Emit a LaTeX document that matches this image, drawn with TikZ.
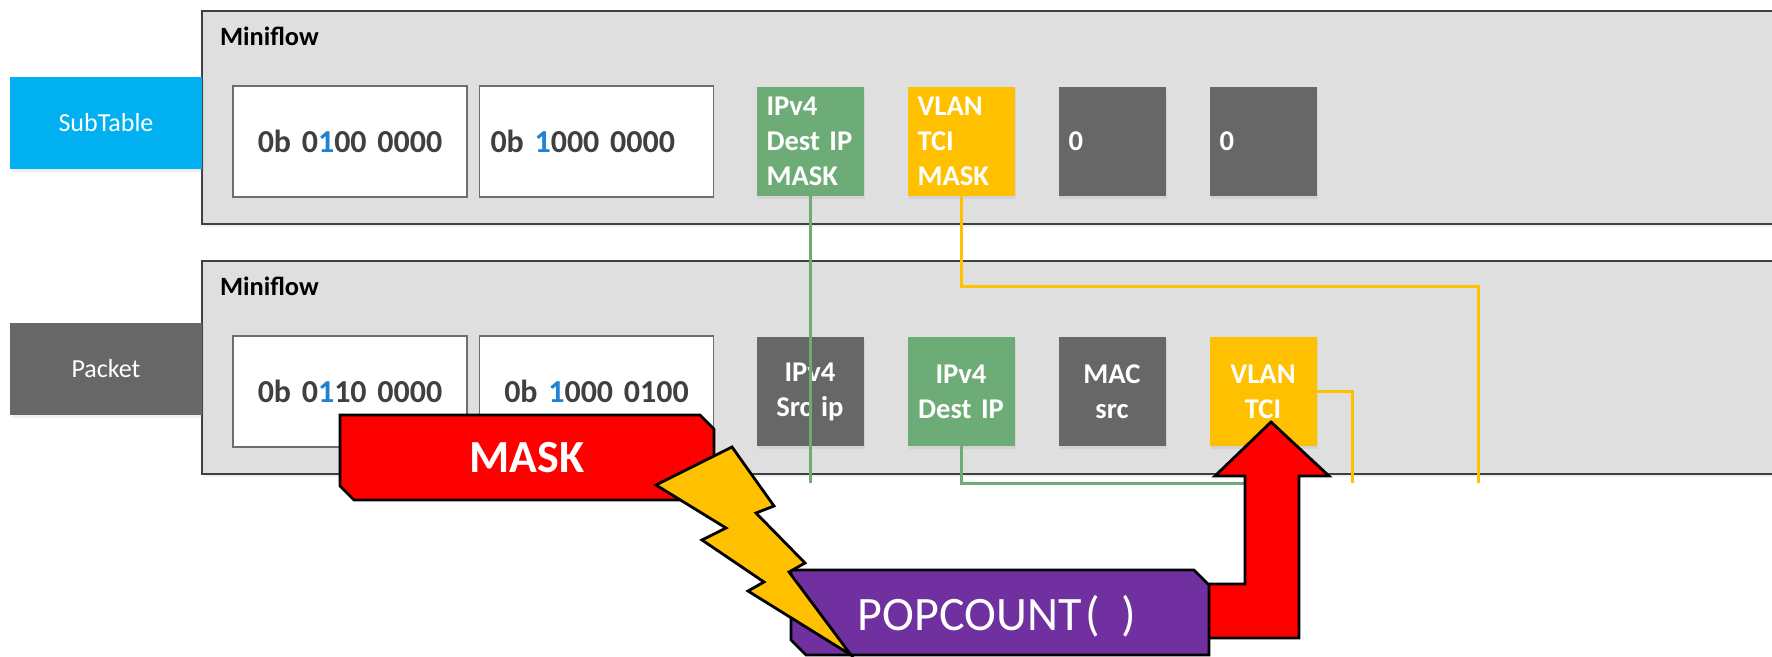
\documentclass[tikz,border=0pt]{standalone}
\usepackage{fontspec}
\setmainfont{Carlito}
\usepackage{xcolor}
\usetikzlibrary{shadows}
\definecolor{panelgray}{HTML}{DFDFDF}
\definecolor{panelline}{HTML}{3F3F3F}
\definecolor{boxline}{HTML}{6E6E6E}
\definecolor{fieldgray}{HTML}{676767}
\definecolor{fieldgreen}{HTML}{6DAC76}
\definecolor{fieldyellow}{HTML}{FFC000}
\definecolor{tagblue}{HTML}{00B0F0}
\definecolor{valtext}{HTML}{404040}
\definecolor{bitblue}{HTML}{1F82D2}
\definecolor{maskred}{HTML}{FF0000}
\definecolor{popviolet}{HTML}{7030A0}
\newcommand{\hibit}[1]{\textcolor{bitblue}{#1}}

\tikzset{
    softshadow/.style={drop shadow={shadow xshift=0.8pt, shadow yshift=-1.6pt, opacity=0.12}},
    panel/.style={draw=panelline, line width=1pt, fill=panelgray, anchor=north west, softshadow,
        minimum width=810pt, minimum height=106.5pt, inner sep=0},
    tag/.style={fill=#1, text=white, minimum width=96pt, minimum height=46pt, inner sep=0, softshadow,
        font=\fontsize{13}{15}\selectfont},
    valbox/.style={draw=boxline, line width=0.8pt, fill=white, text=valtext, text width=106pt,
        inner sep=5.5pt, minimum height=55.5pt, align=center, font=\bfseries\fontsize{16}{19}\selectfont},
    field/.style={fill=#1, text=white, text width=43.5pt, inner sep=5pt, minimum height=54.5pt, softshadow,
        align=left, font=\bfseries\fontsize{14.3}{17.5}\selectfont},
    flowlabel/.style={anchor=base west, font=\bfseries\fontsize{13.2}{15}\selectfont},
    wire/.style={line width=1.5pt, draw=#1},
    cutout/.style={draw=black, line width=1.4pt, line join=miter},
}

\begin{document}
\begin{tikzpicture}[x=0.5pt, y=-0.5pt]
    \useasboundingbox (0,0) rectangle (1772,657);
    \clip (0,0) rectangle (1772,657);

    % the two miniflows
    \node[panel] (subPanel) at (201,10) {};
    \node[panel] (pktPanel) at (201,260) {};
    \node[flowlabel] (subFlow) at (213,45.5) {Miniflow};
    \node[flowlabel] (pktFlow) at (213,295.5) {Miniflow};

    \node[tag=tagblue] (subTag) at (106,123) {SubTable};
    \node[tag=fieldgray] (pktTag) at (106,369) {Packet};

    % map words
    \node[valbox] (subMapA) at (350,141.5) {0b 0\hibit{1}00 0000};
    \node[valbox, align=left] (subMapB) at (596.5,141.5) {0b \hibit{1}000 0000};
    \node[valbox] (pktMapA) at (350,391.5) {0b 0\hibit{1}10 0000};
    \node[valbox] (pktMapB) at (596.5,391.5) {0b \hibit{1}000 0100};

    % fields
    \node[field=fieldgreen] (dipMask) at (810,141.5) {IPv4\\Dest IP\\MASK};
    \node[field=fieldyellow] (tciMask) at (961,141.5) {VLAN\\TCI\\MASK};
    \node[field=fieldgray] (zeroA) at (1112,141.5) {0};
    \node[field=fieldgray] (zeroB) at (1263,141.5) {0};
    \node[field=fieldgray, align=center] (sip) at (810,391.5) {IPv4\\Src ip};
    \node[field=fieldgreen, align=center] (dip) at (961,391.5) {IPv4\\Dest IP};
    \node[field=fieldgray, align=center] (mac) at (1112,391.5) {MAC\\src};
    \node[field=fieldyellow, align=center] (tci) at (1263,391.5) {VLAN\\TCI};

    % wires
    \coordinate (cutLine) at (0,483);
    \coordinate (tciBend) at (1478,287);
    \coordinate (tciTurn) at (1352,0);
    \coordinate (arrowFoot) at (1271,483);
    \draw[wire=fieldgreen] (dipMask.south) -- (dipMask.south |- cutLine);
    \draw[wire=fieldyellow] (tciMask.south) |- (tciBend) -- (tciBend |- cutLine);
    \draw[wire=fieldgreen] (dip.south) |- (arrowFoot);
    \draw[wire=fieldyellow] (tci.east) -| (tciTurn |- cutLine);

    % MASK
    \draw[cutout, fill=maskred] (340,415) -- (700,415) -- (714,429) -- (714,500) -- (354,500) -- (340,486) -- cycle;
    \node[text=white, font=\bfseries\fontsize{23}{26}\selectfont] (maskLbl) at (527,458) {MASK};

    % result arrow
    \draw[cutout, fill=maskred] (1195,584) -- (1245,584) -- (1245,476) -- (1215,476) -- (1271,422)
        -- (1329,476) -- (1299,476) -- (1299,638) -- (1195,638) -- cycle;

    % POPCOUNT
    \draw[cutout, fill=popviolet] (791,570) -- (1194,570) -- (1209,585) -- (1209,655) -- (806,655) -- (791,640) -- cycle;
    \node[text=white, font=\fontsize{24}{28}\selectfont] (popLbl) at (997,616) {POPCOUNT\kern0.08em(\ \ )};

    % bolt
    \draw[cutout, fill=fieldyellow] (656,485) -- (732,447) -- (774,506) -- (756,513) -- (805,563) -- (789,572)
        -- (851,655) -- (748,591) -- (764,582) -- (702,540) -- (726,528) -- cycle;
\end{tikzpicture}
\end{document}
